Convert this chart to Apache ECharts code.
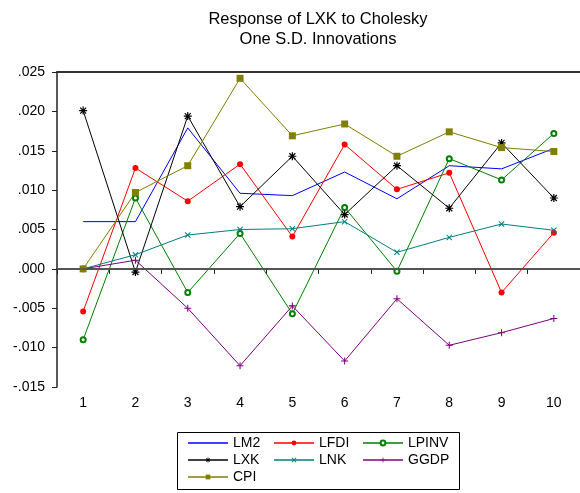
<!DOCTYPE html>
<html>
<head>
<meta charset="utf-8">
<script src="https://cdn.jsdelivr.net/npm/echarts@6/dist/echarts.min.js"></script>
<style>
html,body{margin:0;padding:0;background:#fff;}
#chart{width:580px;height:493px;}
</style>
</head>
<body>
<div id="chart"></div>
<script>
const periods = ['1','2','3','4','5','6','7','8','9','10'];
const LM2   = [0.0060, 0.0060, 0.0179, 0.0096, 0.0093, 0.0123, 0.0089, 0.0131, 0.0127, 0.0153];
const LFDI  = [-0.0054, 0.0128, 0.0086, 0.0133, 0.0041, 0.0158, 0.0101, 0.0122, -0.0030, 0.0046];
const LPINV = [-0.0090, 0.0090, -0.0030, 0.0045, -0.0057, 0.0078, -0.0003, 0.0140, 0.0113, 0.0172];
const LXK   = [0.0201, -0.0004, 0.0194, 0.0079, 0.0143, 0.0069, 0.0131, 0.0077, 0.0160, 0.0090];
const LNK   = [0.0000, 0.0018, 0.0043, 0.0050, 0.0051, 0.0060, 0.0021, 0.0040, 0.0057, 0.0049];
const GGDP  = [0.0000, 0.0011, -0.0050, -0.0123, -0.0047, -0.0117, -0.0038, -0.0097, -0.0081, -0.0063];
const CPI   = [0.0000, 0.0097, 0.0131, 0.0242, 0.0169, 0.0184, 0.0143, 0.0174, 0.0154, 0.0149];
const yTicks = [-0.015, -0.010, -0.005, 0.000, 0.005, 0.010, 0.015, 0.020, 0.025];

const FONT = 'Liberation Sans, Arial, sans-serif';
const STAR = 'path://M8.5 0H11.5V20H8.5Z M0 8.5H20V11.5H0Z M1.5 3.6L3.6 1.5L18.5 16.4L16.4 18.5Z M16.4 1.5L18.5 3.6L3.6 18.5L1.5 16.4Z';
const XMARK = 'path://M1.5 3.6L3.6 1.5L18.5 16.4L16.4 18.5Z M16.4 1.5L18.5 3.6L3.6 18.5L1.5 16.4Z';
const PLUS = 'path://M8.5 0H11.5V20H8.5Z M0 8.5H20V11.5H0Z';

function fmt(v){
  let s = Math.abs(v).toFixed(3).replace(/^0/, '');
  return (v < -1e-9 ? '-' : '') + s;
}

function mk(name, data, color, symbol, size, extra){
  return Object.assign({
    name: name, type: 'line', data: data,
    symbol: symbol, symbolSize: size, showSymbol: symbol !== 'none',
    lineStyle: {color: color, width: 1},
    itemStyle: {color: color},
    emphasis: {disabled: true},
    animation: false
  }, extra || {});
}

const chart = echarts.init(document.getElementById('chart'), null, {renderer: 'canvas'});
const legendText = {fontSize: 14, color: '#000', fontFamily: FONT};
function legend(left, names){
  return {
    data: names, orient: 'vertical', left: left, top: 436, padding: 0,
    itemWidth: 40, itemHeight: 6, itemGap: 3, selectedMode: false,
    lineStyle: {opacity: 0.75},
    textStyle: legendText
  };
}

chart.setOption({
  backgroundColor: '#fff',
  animation: false,
  title: {
    text: 'Response of LXK to Cholesky\nOne S.D. Innovations',
    left: 318, top: 9, padding: 0, textAlign: 'center',
    textStyle: {fontSize: 16.5, fontWeight: 'normal', color: '#000', lineHeight: 20, fontFamily: FONT}
  },
  grid: {left: 57, top: 72, width: 524, height: 315, containLabel: false},
  legend: [
    legend(187, [{name: 'LM2', itemStyle: {opacity: 0}}, 'LXK', 'CPI']),
    legend(273, ['LFDI', 'LNK']),
    legend(362, ['LPINV', 'GGDP'])
  ],
  graphic: [{
    type: 'rect', shape: {x: 177.5, y: 432.5, width: 282, height: 57},
    style: {fill: 'none', stroke: '#000', lineWidth: 1}, silent: true, z: 0
  }],
  xAxis: [{
    type: 'category', data: periods, boundaryGap: true,
    axisLine: {lineStyle: {color: '#222', width: 1.5}},
    axisTick: {show: true, length: 5, lineStyle: {color: '#222', width: 1}},
    axisLabel: {fontSize: 14, color: '#000', margin: 9, fontFamily: FONT},
    splitLine: {show: false}
  }, {
    type: 'category', data: periods, position: 'top', boundaryGap: true,
    axisLine: {lineStyle: {color: '#333', width: 2}},
    axisTick: {show: false}, axisLabel: {show: false}, splitLine: {show: false}
  }],
  yAxis: {
    type: 'value', min: yTicks[0], max: yTicks[yTicks.length - 1], interval: 0.005,
    axisLine: {show: true, lineStyle: {color: '#222', width: 1.5}},
    axisTick: {show: true, length: 5, lineStyle: {color: '#222', width: 1}},
    axisLabel: {fontSize: 14, color: '#000', margin: 12, fontFamily: FONT, formatter: fmt},
    splitLine: {show: false}
  },
  series: [
    mk('LM2', LM2, '#0000ff', 'none', 0, {
      markLine: {
        silent: true, symbol: ['none', 'none'], label: {show: false},
        lineStyle: {color: '#555', width: 1.5, type: 'solid'},
        data: [{yAxis: 0}], animation: false
      }
    }),
    mk('LFDI', LFDI, '#ff0000', 'circle', 6),
    mk('LPINV', LPINV, '#008000', 'emptyCircle', 5, {itemStyle: {color: '#008000', borderWidth: 1.5}}),
    mk('LXK', LXK, '#000000', STAR, 8),
    mk('LNK', LNK, '#008080', XMARK, 6),
    mk('GGDP', GGDP, '#800080', PLUS, 7),
    mk('CPI', CPI, '#808000', 'rect', 7)
  ]
});
</script>
</body>
</html>
